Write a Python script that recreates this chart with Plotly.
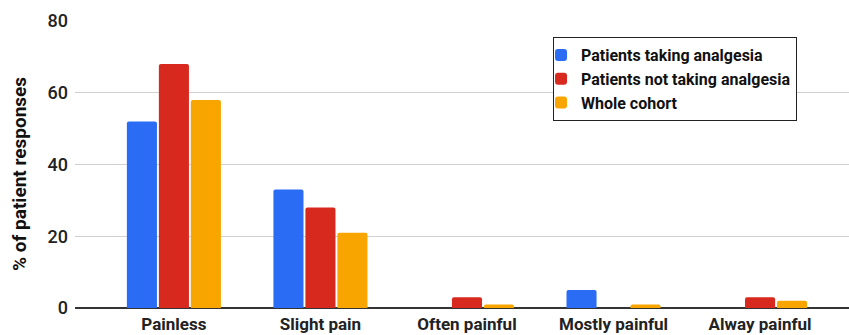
import plotly.graph_objects as go

# Pain categories and response percentages per group
categories = ["Painless", "Slight pain", "Often painful", "Mostly painful", "Alway painful"]
taking_analgesia = [52, 33, 0, 5, 0]
not_taking_analgesia = [68, 28, 3, 0, 3]
whole_cohort = [58, 21, 1, 1, 2]

series_names = ["Patients taking analgesia", "Patients not taking analgesia", "Whole cohort"]
series_colors = ["#2B6CF5", "#D8291F", "#F9A500"]
y_ticks = [0, 20, 40, 60, 80]

fig = go.Figure()
for name, vals, col in zip(series_names,
                           [taking_analgesia, not_taking_analgesia, whole_cohort],
                           series_colors):
    fig.add_trace(go.Bar(x=categories, y=vals, name=name, marker_color=col,
                         marker_line_width=0))

font_family = "Roboto, Arial, sans-serif"
fig.update_layout(
    width=849, height=335,
    margin=dict(l=75, r=0, t=21, b=27),
    paper_bgcolor="white", plot_bgcolor="white",
    barmode="group", bargap=0.345, bargroupgap=0.06,
    barcornerradius=2,
    font=dict(family=font_family, color="#222222"),
    legend=dict(
        x=0.6176, y=0.944, xanchor="left", yanchor="top",
        bordercolor="#222222", borderwidth=1,
        font=dict(size=16, weight="bold", color="#111111"),
        tracegroupgap=0, itemwidth=30, indentation=-13,
        entrywidth=228, entrywidthmode="pixels",
        bgcolor="white",
    ),
    showlegend=True,
    annotations=[dict(
        text="% of patient responses", textangle=-90,
        xref="paper", yref="paper", x=-0.0711, y=0.467,
        xanchor="center", yanchor="middle", showarrow=False,
        font=dict(size=19, weight="bold", color="#111111"),
    )],
)
fig.update_xaxes(
    range=[-0.675, 4.607], showgrid=False, zeroline=False,
    showline=False, ticks="",
    tickfont=dict(size=17, weight="bold", color="#222222"),
    ticklabelstandoff=4,
)
fig.update_yaxes(
    range=[0, 80], tickvals=y_ticks, showgrid=True, gridcolor="#D0D0D0",
    gridwidth=1, zeroline=True, zerolinecolor="#333333", zerolinewidth=1.5,
    tickfont=dict(size=18, weight=500, color="#222222"),
    ticklabelstandoff=6,
)

fig.write_html("out.html")
